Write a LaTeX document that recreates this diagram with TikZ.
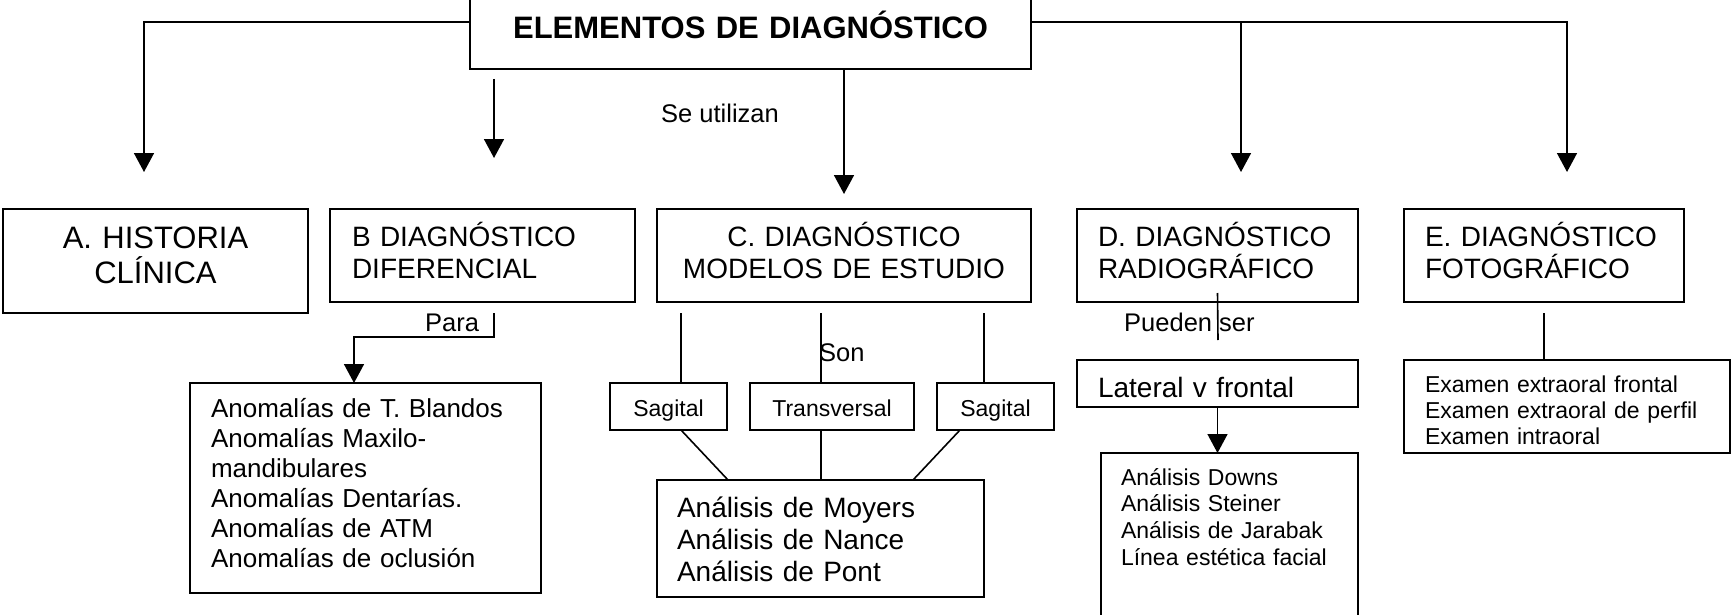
\documentclass[tikz,border=0pt]{standalone}
\usepackage{fontspec}
\setmainfont{Liberation Sans}
\usetikzlibrary{arrows.meta,positioning}
\tikzset{
  box/.style={draw,rectangle,line width=1.6pt,inner sep=0pt,outer sep=0pt,anchor=north west},
  lbox/.style={box,align=left},
  cbox/.style={box,align=center},
  flow/.style={line width=1.6pt,-{Triangle[width=20pt,length=19pt]}},
  link/.style={line width=1.6pt},
  note/.style={font=\fontsize{25.5}{30}\selectfont,anchor=base west,inner sep=0pt},
  big/.style={font=\fontsize{31}{35}\selectfont},
  mid/.style={font=\fontsize{28}{32}\selectfont},
  list/.style={font=\fontsize{26}{30}\selectfont},
  small/.style={font=\fontsize{23}{26.7}\selectfont},
  rowbox/.style={text height=37pt,text depth=56pt,mid}
}

\begin{document}
\begin{tikzpicture}[x=1pt,y=-1pt]
  \useasboundingbox (0,0) rectangle (1731,615);
  \clip (0,0) rectangle (1731,615);

  % main box
  \node[cbox,text width=561pt,text height=64pt,text depth=30pt,font=\bfseries\fontsize{31}{35}\selectfont] (elem) at (470,-25) {ELEMENTOS DE DIAGNÓSTICO};

  % the five kinds
  \node[cbox,text width=305pt,text height=39pt,text depth=65pt,big] (hist) at (3,209) {A. HISTORIA\\CLÍNICA};
  \node[lbox,rowbox,right=22pt of hist.north east,anchor=north west,inner xsep=22pt,text width=261pt] (difer) {B DIAGNÓSTICO\\DIFERENCIAL};
  \node[cbox,rowbox,right=22pt of difer.north east,anchor=north west,text width=374pt] (model) {C. DIAGNÓSTICO\\MODELOS DE ESTUDIO};
  \node[lbox,rowbox,right=46pt of model.north east,anchor=north west,inner xsep=21pt,text width=239pt] (radio) {D. DIAGNÓSTICO\\RADIOGRÁFICO};
  \node[lbox,rowbox,right=46pt of radio.north east,anchor=north west,inner xsep=21pt,text width=238pt] (foto) {E. DIAGNÓSTICO\\FOTOGRÁFICO};

  % B
  \node[lbox,list,inner xsep=21pt,text width=309pt,text height=34pt,text depth=176pt] (anom) at (190,383) {Anomalías de T. Blandos\\Anomalías Maxilo-\\mandibulares\\Anomalías Dentarías.\\Anomalías de ATM\\Anomalías de oclusión};

  % C
  \node[cbox,small,text width=117pt,text height=33pt,text depth=14pt] (sag1) at (610,383) {Sagital};
  \node[cbox,small,text width=164pt,text height=33pt,text depth=14pt] (trans) at (750,383) {Transversal};
  \node[cbox,small,text width=117pt,text height=33pt,text depth=14pt] (sag2) at (937,383) {Sagital};
  \node[lbox,mid,inner xsep=20pt,text width=287pt,text height=37pt,text depth=80pt] (anC) at (657,480) {Análisis de Moyers\\Análisis de Nance\\Análisis de Pont};

  % D
  \node[lbox,mid,inner xsep=21pt,text width=239pt,text height=37pt,text depth=10pt] (lat) at (1077,360) {Lateral v frontal};
  \node[lbox,small,inner xsep=20pt,text width=217pt,text height=32pt,text depth=175pt] (anD) at (1101,453) {Análisis Downs\\Análisis Steiner\\Análisis de Jarabak\\Línea estética facial};

  % E
  \node[lbox,small,inner xsep=21pt,text width=284pt,text height=32pt,text depth=61pt,font=\fontsize{23}{26}\selectfont] (exam) at (1404,360) {Examen extraoral frontal\\Examen extraoral de perfil\\Examen intraoral};

  % link words
  \node[note] (utilizan) at (661,122) {Se utilizan};
  \node[note] (para) at (425,331) {Para};
  \node[note] (son) at (819,361) {Son};
  \node[note] (puedenser) at (1124,331) {Pueden ser};

  \coordinate (tipA) at (144,172);
  \coordinate (bTop) at (494,79);
  \coordinate (tipB) at (494,158);
  \coordinate (tipC) at (844,194);
  \coordinate (jD) at (1241,22);
  \coordinate (tipD) at (1241,172);
  \coordinate (tipE) at (1567,172);
  \coordinate (paraTop) at (494,313);
  \coordinate (paraBend) at (354,337);
  \coordinate (c1) at (681,313);
  \coordinate (c2) at (821,313);
  \coordinate (c3) at (984,313);
  \coordinate (puedenEnd) at (1218,340);

  \draw[flow] (elem.west) -| (tipA);
  \draw[flow] (elem.east) -| (tipE);
  \draw[flow] (jD) -- (tipD);
  \draw[flow] (bTop) -- (tipB);
  \draw[flow] (tipC |- elem.south) -- (tipC);

  \draw[flow] (paraTop) |- (paraBend) -- (paraBend |- anom.north);

  \draw[link] (c1) -- (c1 |- sag1.north);
  \draw[link] (c2) -- (c2 |- trans.north);
  \draw[link] (c3) -- (c3 |- sag2.north);
  \draw[link] ([xshift=12.5pt]sag1.south) -- ([xshift=-92.5pt]anC.north);
  \draw[link] ([xshift=-11pt]trans.south) -- ([xshift=0.5pt]anC.north);
  \draw[link] ([xshift=-35.5pt]sag2.south) -- ([xshift=92.5pt]anC.north);

  \draw[link] ([yshift=9pt]radio.south) -- (puedenEnd);
  \draw[flow] (lat.south) -- (lat.south |- anD.north);

  \draw[link] ([yshift=-11pt]foto.south) -- (foto.south |- exam.north);
\end{tikzpicture}
\end{document}
